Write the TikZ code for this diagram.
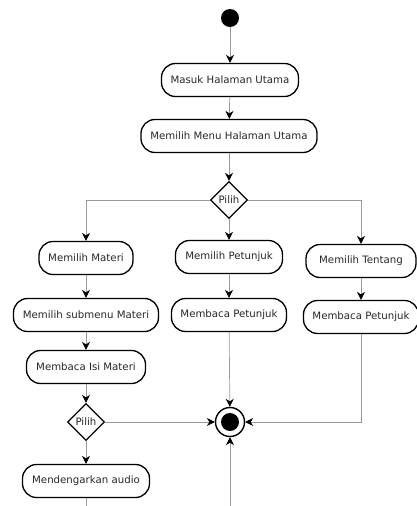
\documentclass[tikz,border=0pt]{standalone}
\usepackage{fontspec}
\setmainfont{DejaVu Sans}
\usetikzlibrary{arrows.meta,shapes.geometric}

\begin{document}
\begin{tikzpicture}[x=1pt, y=-1pt,
    act/.style={draw, line width=1.3pt, rounded corners=14pt, minimum height=33pt,
      inner xsep=6pt, text=black!85, font=\fontsize{10.2}{12}\selectfont},
    choice/.style={draw, line width=1.3pt, diamond, minimum width=37pt, minimum height=37pt,
      inner sep=0pt, text=black!85, font=\fontsize{10.2}{12}\selectfont},
    flow/.style={draw=gray!80, line width=0.7pt, -{Stealth[black, length=8pt, width=8pt]}},
    tail/.style={draw=gray!80, line width=0.7pt}]
    \useasboundingbox (0,0) rectangle (416,506);

    % Nodes
    \node[circle, fill, minimum size=18pt, inner sep=0pt] (start) at (230,18) {};
    \node[act, minimum width=137pt] (masuk) at (230,80) {Masuk Halaman Utama};
    \node[act, minimum width=176pt] (menu) at (229,136) {Memilih Menu Halaman Utama};
    \node[choice] (pilih) at (229,200) {Pilih};
    \node[act, minimum width=94pt] (materi) at (86,258) {Memilih Materi};
    \node[act, minimum width=107pt] (petunjuk) at (229,257) {Memilih Petunjuk};
    \node[act, minimum width=110pt] (tentang) at (361,261) {Memilih Tentang};
    \node[act, minimum width=145pt] (submenu) at (86,315) {Memilih submenu Materi};
    \node[act, minimum width=115pt] (bacapetunjuk) at (229,315) {Membaca Petunjuk};
    \node[act, minimum width=115pt] (bacatentang) at (361,317) {Membaca Petunjuk};
    \node[act, minimum width=119pt] (isi) at (86,367) {Membaca Isi Materi};
    \node[choice] (pilihmateri) at (86,422) {Pilih};
    \node[circle, draw, line width=1.4pt, minimum size=29pt, inner sep=0pt] (akhir) at (230,422) {};
    \node[circle, fill, minimum size=18pt, inner sep=0pt] (akhirdot) at (akhir) {};
    \node[act, minimum width=127pt] (audio) at (86,481) {Mendengarkan audio};
    \coordinate (bawahaudio) at (86,510);
    \coordinate (bawahakhir) at (230,510);

    % Edges
    \draw[flow] (start) -- (masuk);
    \draw[flow] (masuk) -- (menu);
    \draw[flow] (menu) -- (pilih);
    \draw[flow] (pilih) -| (materi);
    \draw[flow] (pilih) -- (petunjuk);
    \draw[flow] (pilih) -| (tentang);
    \draw[flow] (materi) -- (submenu);
    \draw[flow] (submenu) -- (isi);
    \draw[flow] (isi) -- (pilihmateri);
    \draw[flow] (pilihmateri) -- (audio);
    \draw[flow] (pilihmateri) -- (akhir);
    \draw[flow] (petunjuk) -- (bacapetunjuk);
    \draw[flow] (bacapetunjuk) -- (akhir);
    \draw[flow] (tentang) -- (bacatentang);
    \draw[flow] (bacatentang) |- (akhir);
    \draw[flow] (bawahakhir) -- (akhir);
    \draw[tail] (audio) -- (bawahaudio);
\end{tikzpicture}
\end{document}
